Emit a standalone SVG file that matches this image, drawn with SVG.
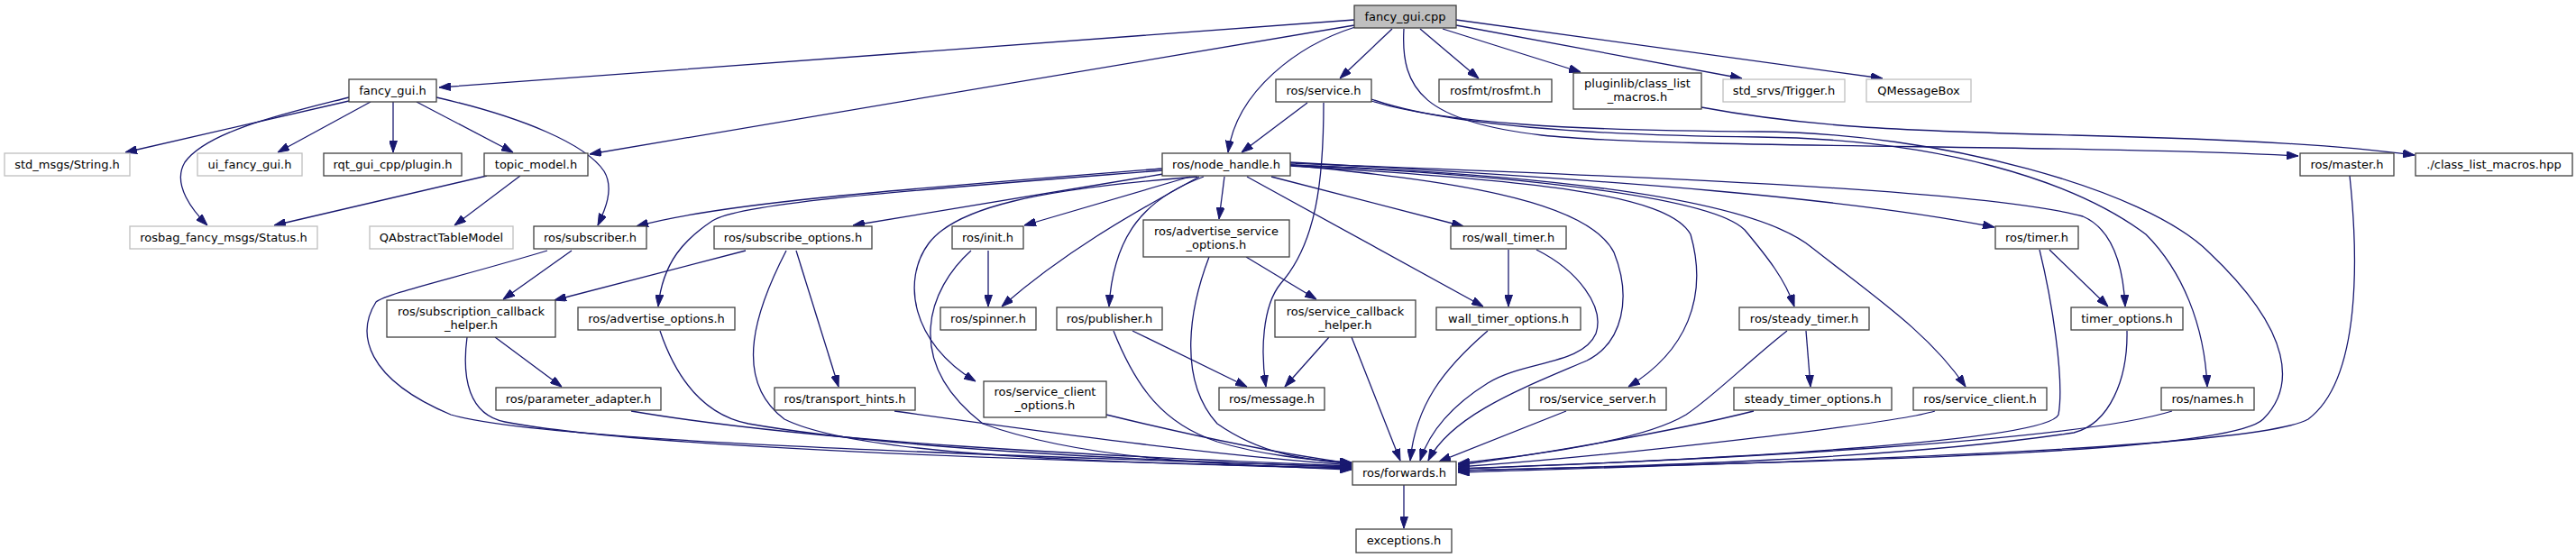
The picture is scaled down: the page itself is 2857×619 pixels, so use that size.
<svg xmlns="http://www.w3.org/2000/svg" width="2857" height="619" viewBox="0 0 2857 619">
<style>
.n rect{fill:#ffffff;stroke:#404040;stroke-width:1.3}
.g rect{fill:#ffffff;stroke:#bfbfbf;stroke-width:1.3}
.r rect{fill:#bfbfbf;stroke:#404040;stroke-width:1.3}
text{font-family:"DejaVu Sans","Liberation Sans",sans-serif;font-size:13px;fill:#000000;text-anchor:middle}
#edges path{fill:none;stroke:#191970;stroke-width:1.3;marker-end:url(#ah)}
</style>
<defs>
<marker id="ah" markerUnits="userSpaceOnUse" viewBox="0 0 13 9" markerWidth="13" markerHeight="9" refX="13" refY="4.5" orient="auto">
<path d="M0,0 L13,4.5 L0,9 z" fill="#191970" stroke="#191970" stroke-width="1"/>
</marker>
</defs>
<rect width="2857" height="619" fill="#ffffff"/>
<g id="edges">
<path d="M1502,22 C1200,44 750,78 487,97"/>
<path d="M1502,28 L654,171"/>
<path d="M1503,30 C1440,50 1372,100 1362,169"/>
<path d="M1544,32 L1486,87"/>
<path d="M1575,32 L1640,87"/>
<path d="M1600,32 L1753,80"/>
<path d="M1615,28 L1932,87"/>
<path d="M1615,22 L2088,87"/>
<path d="M1557,32 C1553,100 1580,135 1710,150 C1850,165 2300,160 2549,173"/>
<path d="M387,112 L139,169"/>
<path d="M387,108 C320,125 230,145 205,180 C190,205 215,235 230,250"/>
<path d="M411,113 L308,169"/>
<path d="M436,113 L436,169"/>
<path d="M462,113 L569,169"/>
<path d="M484,108 C580,130 650,160 670,190 C682,210 670,235 663,250"/>
<path d="M540,195 L304,250"/>
<path d="M577,195 L504,250"/>
<path d="M1450,114 L1377,169"/>
<path d="M1468,114 C1468,200 1460,270 1420,315 C1400,340 1398,390 1404,429"/>
<path d="M1521,110 C1600,138 1750,150 1950,152 C2150,154 2300,200 2380,260 C2420,300 2445,360 2448,429"/>
<path d="M1521,112 C1600,137 1750,145 1950,146 C2150,147 2380,210 2450,280 C2545,370 2545,430 2510,465 C2470,505 2000,512 1617,522"/>
<path d="M1887,119 C2000,140 2100,145 2300,150 C2500,155 2600,162 2678,172"/>
<path d="M1289,187 C1000,210 800,225 706,251"/>
<path d="M1289,189 C1000,212 820,225 790,245 C760,265 735,290 730,340"/>
<path d="M1290,193 L946,250"/>
<path d="M1320,196 L1136,250"/>
<path d="M1328,196 C1150,210 1060,230 1030,270 C1000,310 1010,380 1082,423"/>
<path d="M1330,196 C1250,240 1180,280 1111,340"/>
<path d="M1335,196 C1270,220 1235,260 1230,340"/>
<path d="M1358,196 L1352,243"/>
<path d="M1410,196 L1623,251"/>
<path d="M1383,196 L1645,340"/>
<path d="M1382,285 L1460,332"/>
<path d="M1431,183 C1600,200 1760,220 1790,280 C1810,330 1800,380 1760,400 C1690,430 1610,460 1584,511"/>
<path d="M1431,184 C1700,200 1850,215 1875,260 C1895,330 1870,390 1806,429"/>
<path d="M1431,183 C1700,195 1900,220 1935,255 C1960,285 1980,310 1990,340"/>
<path d="M1431,183 C1750,195 1950,225 2010,275 C2080,330 2140,370 2180,429"/>
<path d="M1431,181 C1800,195 2200,210 2310,240 C2345,255 2355,300 2357,340"/>
<path d="M1431,180 C1800,200 2050,220 2212,252"/>
<path d="M634,278 L558,332"/>
<path d="M607,278 C500,310 430,325 417,335 C395,370 405,420 500,460 C600,490 1100,505 1499,518"/>
<path d="M827,278 L615,333"/>
<path d="M883,278 L930,429"/>
<path d="M872,278 C840,340 810,420 870,465 C950,505 1200,512 1499,520"/>
<path d="M1096,278 L1096,340"/>
<path d="M1077,278 C1030,320 1000,400 1090,470 C1200,510 1350,515 1499,521"/>
<path d="M1341,285 C1320,340 1305,420 1350,470 C1400,505 1450,510 1499,515"/>
<path d="M549,374 L623,429"/>
<path d="M518,374 C512,420 520,460 560,468 C700,495 1100,510 1499,519"/>
<path d="M700,456 C900,490 1200,505 1499,517"/>
<path d="M732,367 C750,420 780,460 830,470 C1000,500 1300,512 1499,518"/>
<path d="M992,456 C1200,485 1350,505 1499,516"/>
<path d="M1227,460 C1350,490 1430,505 1499,514"/>
<path d="M1256,367 L1383,429"/>
<path d="M1235,367 C1260,430 1290,470 1350,490 C1400,505 1450,510 1499,513"/>
<path d="M1474,374 L1425,429"/>
<path d="M1499,374 L1553,511"/>
<path d="M1673,277 L1673,340"/>
<path d="M1704,277 C1750,300 1780,340 1770,370 C1755,405 1690,400 1650,425 C1610,450 1585,480 1575,511"/>
<path d="M1650,367 C1600,410 1570,450 1564,511"/>
<path d="M1737,456 L1596,512"/>
<path d="M2003,367 L2008,429"/>
<path d="M1982,367 C1940,400 1900,440 1870,460 C1820,490 1700,505 1617,514"/>
<path d="M1945,456 C1850,480 1700,505 1617,516"/>
<path d="M2146,456 C2100,470 1800,505 1617,518"/>
<path d="M2273,277 L2338,340"/>
<path d="M2262,277 C2275,330 2290,420 2283,460 C2270,490 1900,510 1617,520"/>
<path d="M2359,367 C2360,420 2340,470 2300,480 C2100,510 1800,518 1617,522"/>
<path d="M2409,456 C2300,490 1900,510 1617,520"/>
<path d="M2606,195 C2615,280 2620,420 2560,465 C2500,500 1900,515 1617,524"/>
<path d="M1557,538 L1557,586"/>
</g>
<g id="fancy_gui_cpp" class="r"><rect x="1502" y="6" width="113" height="25"/><text x="1558.5" y="23">fancy_gui.cpp</text></g>
<g id="fancy_gui_h" class="n"><rect x="387" y="88" width="97" height="25"/><text x="435.5" y="105">fancy_gui.h</text></g>
<g id="ros_service_h" class="n"><rect x="1415" y="88" width="106" height="25"/><text x="1468" y="105">ros/service.h</text></g>
<g id="rosfmt_h" class="n"><rect x="1596" y="88" width="125" height="25"/><text x="1658.5" y="105">rosfmt/rosfmt.h</text></g>
<g id="pluginlib_h" class="n"><rect x="1745" y="81" width="142" height="40"/><text x="1816" y="97">pluginlib/class_list</text><text x="1816" y="112">_macros.h</text></g>
<g id="std_srvs_trigger_h" class="g"><rect x="1911" y="88" width="135" height="25"/><text x="1978.5" y="105">std_srvs/Trigger.h</text></g>
<g id="qmessagebox" class="g"><rect x="2070" y="88" width="116" height="25"/><text x="2128" y="105">QMessageBox</text></g>
<g id="std_msgs_string_h" class="g"><rect x="5" y="170" width="139" height="25"/><text x="74.5" y="187">std_msgs/String.h</text></g>
<g id="ui_fancy_gui_h" class="g"><rect x="219" y="170" width="116" height="25"/><text x="277" y="187">ui_fancy_gui.h</text></g>
<g id="rqt_plugin_h" class="n"><rect x="359" y="170" width="153" height="25"/><text x="435.5" y="187">rqt_gui_cpp/plugin.h</text></g>
<g id="topic_model_h" class="n"><rect x="537" y="170" width="115" height="25"/><text x="594.5" y="187">topic_model.h</text></g>
<g id="ros_node_handle_h" class="n"><rect x="1289" y="170" width="142" height="25"/><text x="1360" y="187">ros/node_handle.h</text></g>
<g id="ros_master_h" class="n"><rect x="2551" y="170" width="104" height="25"/><text x="2603" y="187">ros/master.h</text></g>
<g id="class_list_macros_hpp" class="n"><rect x="2679" y="170" width="174" height="25"/><text x="2766" y="187">./class_list_macros.hpp</text></g>
<g id="rosbag_status_h" class="g"><rect x="144" y="251" width="208" height="25"/><text x="248" y="268">rosbag_fancy_msgs/Status.h</text></g>
<g id="qabstracttablemodel" class="g"><rect x="410" y="251" width="159" height="25"/><text x="489.5" y="268">QAbstractTableModel</text></g>
<g id="ros_subscriber_h" class="n"><rect x="592" y="251" width="125" height="25"/><text x="654.5" y="268">ros/subscriber.h</text></g>
<g id="ros_subscribe_options_h" class="n"><rect x="792" y="251" width="175" height="25"/><text x="879.5" y="268">ros/subscribe_options.h</text></g>
<g id="ros_init_h" class="n"><rect x="1056" y="251" width="79" height="25"/><text x="1095.5" y="268">ros/init.h</text></g>
<g id="ros_advertise_service_options_h" class="n"><rect x="1268" y="244" width="162" height="41"/><text x="1349" y="261">ros/advertise_service</text><text x="1349" y="276">_options.h</text></g>
<g id="ros_wall_timer_h" class="n"><rect x="1609" y="251" width="128" height="25"/><text x="1673" y="268">ros/wall_timer.h</text></g>
<g id="ros_timer_h" class="n"><rect x="2213" y="251" width="92" height="25"/><text x="2259" y="268">ros/timer.h</text></g>
<g id="ros_subscription_callback_helper_h" class="n"><rect x="429" y="333" width="187" height="41"/><text x="522.5" y="350">ros/subscription_callback</text><text x="522.5" y="365">_helper.h</text></g>
<g id="ros_advertise_options_h" class="n"><rect x="641" y="341" width="174" height="25"/><text x="728" y="358">ros/advertise_options.h</text></g>
<g id="ros_spinner_h" class="n"><rect x="1043" y="341" width="106" height="25"/><text x="1096" y="358">ros/spinner.h</text></g>
<g id="ros_publisher_h" class="n"><rect x="1172" y="341" width="117" height="25"/><text x="1230.5" y="358">ros/publisher.h</text></g>
<g id="ros_service_callback_helper_h" class="n"><rect x="1414" y="333" width="156" height="41"/><text x="1492" y="350">ros/service_callback</text><text x="1492" y="365">_helper.h</text></g>
<g id="wall_timer_options_h" class="n"><rect x="1593" y="341" width="160" height="25"/><text x="1673" y="358">wall_timer_options.h</text></g>
<g id="ros_steady_timer_h" class="n"><rect x="1929" y="341" width="144" height="25"/><text x="2001" y="358">ros/steady_timer.h</text></g>
<g id="timer_options_h" class="n"><rect x="2297" y="341" width="124" height="25"/><text x="2359" y="358">timer_options.h</text></g>
<g id="ros_parameter_adapter_h" class="n"><rect x="550" y="430" width="183" height="25"/><text x="641.5" y="447">ros/parameter_adapter.h</text></g>
<g id="ros_transport_hints_h" class="n"><rect x="859" y="430" width="156" height="25"/><text x="937" y="447">ros/transport_hints.h</text></g>
<g id="ros_service_client_options_h" class="n"><rect x="1091" y="423" width="136" height="40"/><text x="1159" y="439">ros/service_client</text><text x="1159" y="454">_options.h</text></g>
<g id="ros_message_h" class="n"><rect x="1352" y="430" width="117" height="25"/><text x="1410.5" y="447">ros/message.h</text></g>
<g id="ros_service_server_h" class="n"><rect x="1696" y="430" width="152" height="25"/><text x="1772" y="447">ros/service_server.h</text></g>
<g id="steady_timer_options_h" class="n"><rect x="1923" y="430" width="175" height="25"/><text x="2010.5" y="447">steady_timer_options.h</text></g>
<g id="ros_service_client_h" class="n"><rect x="2122" y="430" width="148" height="25"/><text x="2196" y="447">ros/service_client.h</text></g>
<g id="ros_names_h" class="n"><rect x="2397" y="430" width="103" height="25"/><text x="2448.5" y="447">ros/names.h</text></g>
<g id="ros_forwards_h" class="n"><rect x="1500" y="512" width="115" height="26"/><text x="1557.5" y="529">ros/forwards.h</text></g>
<g id="exceptions_h" class="n"><rect x="1504" y="587" width="106" height="26"/><text x="1557" y="604">exceptions.h</text></g>
</svg>
